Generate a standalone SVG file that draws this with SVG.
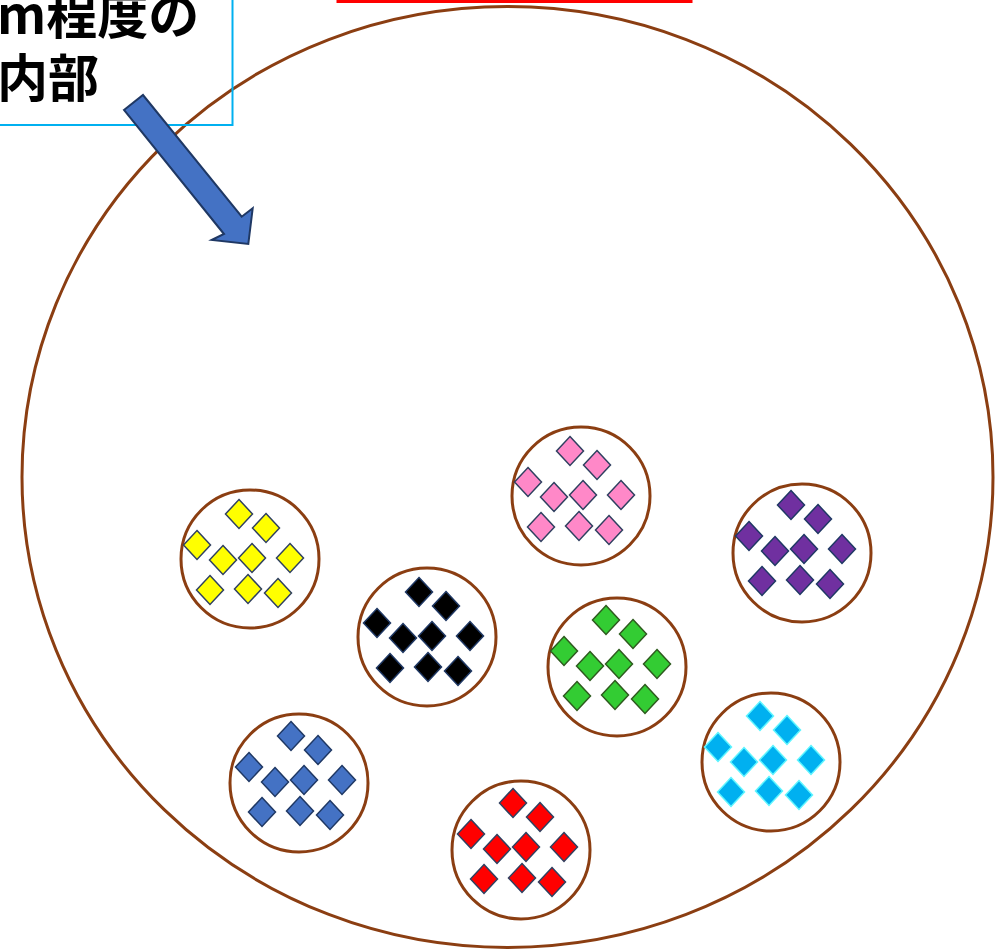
<svg xmlns="http://www.w3.org/2000/svg" xmlns:xlink="http://www.w3.org/1999/xlink" width="1001" height="951" viewBox="0 0 1001 951">
<style>
.cell{fill:#fff;stroke:#8B3E12;stroke-width:3}
.big{fill:none;stroke:#8B3E12;stroke-width:3}
.lbl{font-family:"Noto Sans CJK JP","Noto Sans",sans-serif;font-weight:bold;font-size:51px;fill:#000}
.dm{stroke-width:1.5;stroke-linejoin:miter}
</style>
<defs>
<path id="d" d="M0,-14.5 L13.5,0 L0,14.5 L-13.5,0 Z"/>
<g id="cluster" class="dm">
<use xlink:href="#d" x="-13" y="-44"/>
<use xlink:href="#d" x="14" y="-30"/>
<use xlink:href="#d" x="-55" y="-13"/>
<use xlink:href="#d" x="-29" y="2"/>
<use xlink:href="#d" x="0" y="0"/>
<use xlink:href="#d" x="38" y="0"/>
<use xlink:href="#d" x="-42" y="32"/>
<use xlink:href="#d" x="-4" y="31"/>
<use xlink:href="#d" x="26" y="35"/>
</g>
</defs>
<rect x="0" y="0" width="1001" height="951" fill="#fff"/>

<g id="top-box">
<rect x="338" y="-20" width="353" height="21.5" fill="none" stroke="#FF0000" stroke-width="3"/>
</g>

<g id="outer">
<ellipse class="big" cx="507.5" cy="477" rx="485.5" ry="470.5"/>
</g>

<g id="callout">
<rect x="-5" y="-5" width="237.5" height="130" fill="none" stroke="#00B0F0" stroke-width="2"/>
<text class="lbl" x="-3" y="34">m程度の</text>
<text class="lbl" x="-3" y="97">内部</text>
</g>

<g id="cell-yellow">
<circle class="cell" cx="250" cy="559" r="69"/>
<use xlink:href="#cluster" x="252" y="558" fill="#FFFF00" stroke="#2F4060"/>
</g>
<g id="cell-pink">
<circle class="cell" cx="581" cy="496" r="69"/>
<use xlink:href="#cluster" x="583" y="495" fill="#FF88C8" stroke="#2F4060"/>
</g>
<g id="cell-black">
<circle class="cell" cx="427" cy="637" r="69"/>
<use xlink:href="#cluster" x="432" y="636" fill="#000000" stroke="#1F3864"/>
</g>
<g id="cell-green">
<circle class="cell" cx="617" cy="667" r="69"/>
<use xlink:href="#cluster" x="619" y="664" fill="#33CC33" stroke="#2E5A1E"/>
</g>
<g id="cell-purple">
<circle class="cell" cx="802" cy="553" r="69"/>
<use xlink:href="#cluster" x="804" y="549" fill="#7030A0" stroke="#1F3864"/>
</g>
<g id="cell-blue">
<circle class="cell" cx="299" cy="783" r="69"/>
<use xlink:href="#cluster" x="304" y="780" fill="#4472C4" stroke="#1F3864"/>
</g>
<g id="cell-red">
<circle class="cell" cx="521" cy="850" r="69"/>
<use xlink:href="#cluster" x="526" y="847" fill="#FF0000" stroke="#2F4060"/>
</g>
<g id="cell-cyan">
<circle class="cell" cx="771" cy="762" r="69"/>
<use xlink:href="#cluster" x="773" y="760" fill="#00B0F0" stroke="#5FF5FF"/>
</g>

<g id="connectors">
<polygon points="124,110 143,95 241.7,216.7 252.7,208.3 248.3,244 211.7,240 224,234" fill="#4472C4" stroke="#1F3864" stroke-width="2" stroke-linejoin="miter"/>
</g>
</svg>
